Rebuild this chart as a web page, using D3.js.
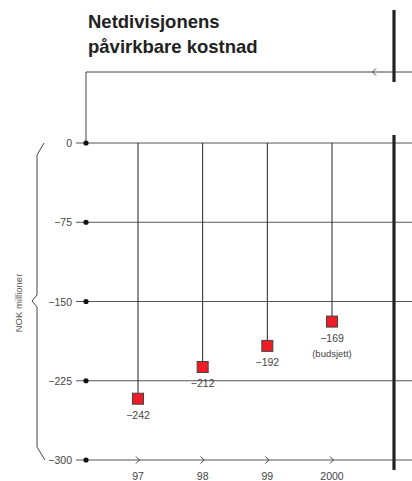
<!DOCTYPE html>
<html lang="no">
<head>
<meta charset="utf-8">
<title>Netdivisjonens påvirkbare kostnad</title>
<script src="https://cdn.jsdelivr.net/npm/d3@7/dist/d3.min.js"></script>
<style>
body{margin:0;background:#fff;}
svg{display:block;font-family:"Liberation Sans",Arial,sans-serif;}
</style>
</head>
<body>
<script>
// data
let years = ["97", "98", "99", "2000"];
let values = [-242, -212, -192, -169];
let notes = ["", "", "", "(budsjett)"];
let yTicks = [0, -75, -150, -225, -300];
let titleLines = ["Netdivisjonens", "påvirkbare kostnad"];
let yLabel = "NOK millioner";

let w = 412, h = 481;
let x0 = 86;        // left axis line
let barX = 394;     // thick right bar

let svg = d3.select("body").append("svg").attr("width", w).attr("height", h);

let y = d3.scaleLinear().domain([0, -300]).range([143, 460]);
let x = d3.scalePoint().domain(years).range([138, 332]);

// title
svg.append("text").selectAll("tspan").data(titleLines).enter().append("tspan")
    .attr("x", 88).attr("y", (d, i) => 28 + i * 25)
    .attr("font-size", 18.5).attr("font-weight", "bold").attr("fill", "#222")
    .text(d => d);

// top line with arrow and connector down to zero
svg.append("path").attr("d", "M" + x0 + "," + y(0) + "V72H" + w)
    .attr("fill", "none").attr("stroke", "#444").attr("stroke-width", 1);
svg.append("path").attr("d", "M376,68.5L372.5,72L376,75.5")
    .attr("fill", "none").attr("stroke", "#444").attr("stroke-width", 1);
svg.append("line").attr("x1", barX).attr("x2", barX).attr("y1", 10).attr("y2", 82)
    .attr("stroke", "#222").attr("stroke-width", 3.2);

// gridlines
let grid = svg.append("g");
grid.selectAll("line.grid").data(yTicks).enter().append("line")
    .attr("x1", 76).attr("x2", w)
    .attr("y1", d => y(d)).attr("y2", d => y(d))
    .attr("stroke", "#555").attr("stroke-width", 1);
grid.selectAll("circle").data(yTicks).enter().append("circle")
    .attr("cx", x0).attr("cy", d => y(d)).attr("r", 2.6).attr("fill", "#111");
grid.selectAll("text").data(yTicks).enter().append("text")
    .attr("x", 72).attr("y", d => y(d) + 4)
    .attr("text-anchor", "end").attr("font-size", 10.5).attr("fill", "#444")
    .text(d => d === 0 ? "0" : "\u2212" + Math.abs(d));

// category arrows on bottom line
svg.selectAll("path.arr").data(years).enter().append("path")
    .attr("class", "arr")
    .attr("d", d => "M" + (x(d) - 2) + "," + (y(-300) - 3.5) + "L" + (x(d) + 1.5) + "," + y(-300) + "L" + (x(d) - 2) + "," + (y(-300) + 3.5))
    .attr("fill", "none").attr("stroke", "#444").attr("stroke-width", 1);
svg.selectAll("text.cat").data(years).enter().append("text")
    .attr("class", "cat")
    .attr("x", d => x(d)).attr("y", 480)
    .attr("text-anchor", "middle").attr("font-size", 10.5).attr("fill", "#444")
    .text(d => d);

// right thick bar
svg.append("line").attr("x1", barX).attr("x2", barX).attr("y1", 135).attr("y2", 470)
    .attr("stroke", "#222").attr("stroke-width", 3.2);

// y axis brace and label
svg.append("path").attr("d", "M44,143L37,155V295L32,301L37,307V447L45,460")
    .attr("fill", "none").attr("stroke", "#444").attr("stroke-width", 1);
svg.append("text")
    .attr("transform", "translate(21.5,303) rotate(-90)")
    .attr("text-anchor", "middle").attr("font-size", 9.5).attr("fill", "#555")
    .text(yLabel);

// stems and markers
let pts = svg.selectAll("g.pt").data(values).enter().append("g").attr("class", "pt");
pts.append("line")
    .attr("x1", (d, i) => x(years[i])).attr("x2", (d, i) => x(years[i]))
    .attr("y1", y(0)).attr("y2", d => y(d))
    .attr("stroke", "#222").attr("stroke-width", 1);
pts.append("rect")
    .attr("x", (d, i) => x(years[i]) - 5.5).attr("y", d => y(d) - 5.5)
    .attr("width", 11).attr("height", 11)
    .attr("fill", "#ee1c24").attr("stroke", "#444").attr("stroke-width", 1);
pts.append("text")
    .attr("x", (d, i) => x(years[i])).attr("y", d => y(d) + 20)
    .attr("text-anchor", "middle").attr("font-size", 10.5).attr("fill", "#444")
    .text(d => "\u2212" + Math.abs(d));
pts.append("text")
    .attr("x", (d, i) => x(years[i])).attr("y", d => y(d) + 35)
    .attr("text-anchor", "middle").attr("font-size", 9.5).attr("fill", "#444")
    .text((d, i) => notes[i]);
</script>
</body>
</html>
